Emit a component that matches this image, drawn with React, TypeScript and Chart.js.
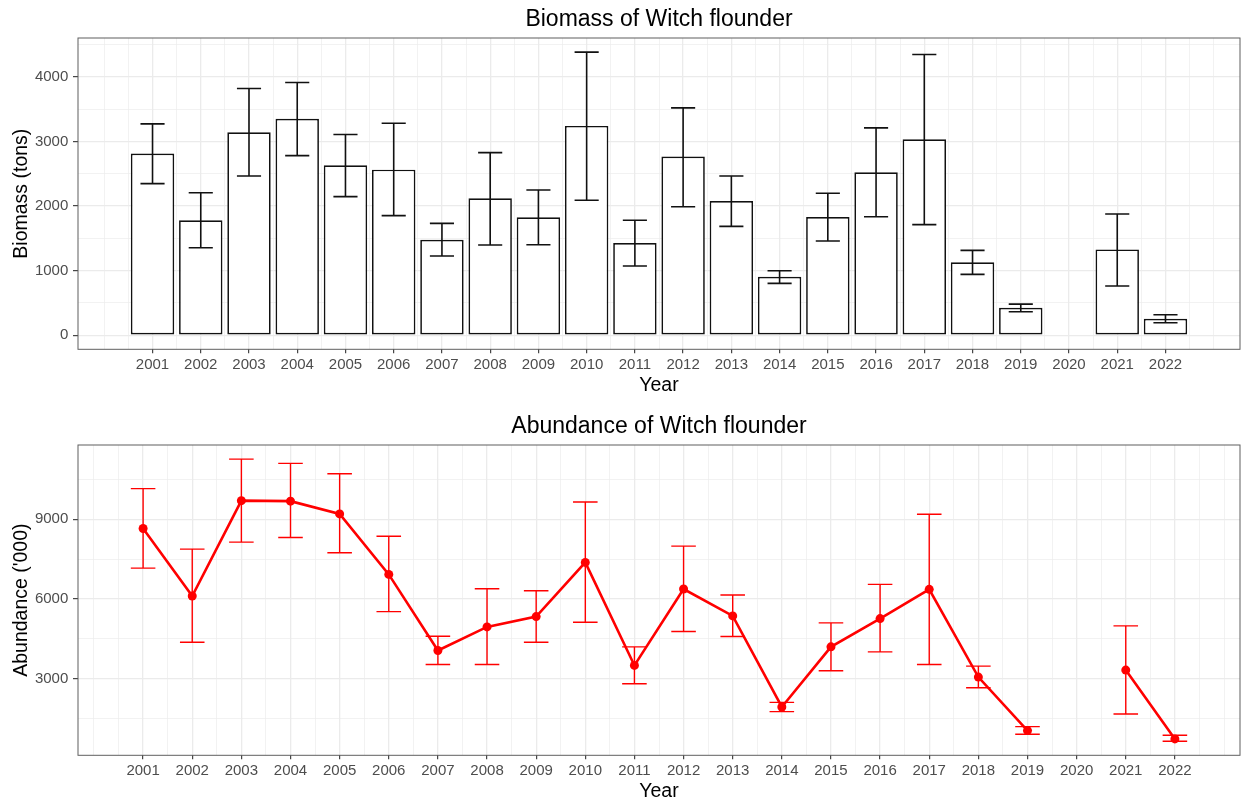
import React, { useEffect, useRef } from 'react';
import { Chart, registerables } from 'chart.js';

Chart.register(...registerables);

// ---------- data ----------
const years = [2001, 2002, 2003, 2004, 2005, 2006, 2007, 2008, 2009, 2010, 2011, 2012, 2013, 2014, 2015, 2016, 2017, 2018, 2019, 2020, 2021, 2022];

const biomass = [2811, 1778, 3142, 3349, 2630, 2563, 1478, 2119, 1824, 3240, 1426, 2765, 2078, 904, 1829, 2522, 3034, 1127, 423, null, 1328, 253];
const biomassLower = [2346, 1354, 2465, 2780, 2145, 1850, 1225, 1395, 1400, 2088, 1070, 1989, 1685, 801, 1457, 1834, 1711, 941, 362, null, 760, 191];
const biomassUpper = [3271, 2206, 3819, 3912, 3106, 3282, 1731, 2827, 2248, 4382, 1778, 3519, 2465, 997, 2197, 3209, 4346, 1313, 481, null, 1876, 315];

const abundance = [8650, 6112, 9700, 9680, 9200, 6925, 4062, 4950, 5337, 7375, 3500, 6375, 5362, 1937, 4200, 5262, 6362, 3062, 1050, null, 3325, 737];
const abundanceLower = [7162, 4375, 8137, 8312, 7737, 5525, 3537, 3537, 4375, 5125, 2812, 4775, 4587, 1762, 3300, 4012, 3537, 2662, 912, null, 1675, 650];
const abundanceUpper = [10150, 7875, 11262, 11100, 10713, 8362, 4600, 6387, 6312, 9650, 4200, 7987, 6150, 2112, 5100, 6550, 9187, 3475, 1200, null, 4987, 875];

const biomassTicks = [0, 1000, 2000, 3000, 4000];
const abundanceTicks = [3000, 6000, 9000];

const biomassTitle = 'Biomass of Witch flounder';
const abundanceTitle = 'Abundance of Witch flounder';
const xTitle = 'Year';
const biomassYTitle = 'Biomass (tons)';
const abundanceYTitle = "Abundance ('000)";

// ---------- helpers ----------
const FONT = "'Liberation Sans', Arial, Helvetica, sans-serif";
const GRID = '#ebebeb';
const TICK_TEXT = '#4d4d4d';

const nums = (a: (number | null)[]) => a.filter((v) => v != null) as number[];

function expandRange(lo: number, hi: number) {
  const pad = 0.05 * (hi - lo);
  return [lo - pad, hi + pad];
}

// major breaks + ggplot-style minor breaks within limits
function gridTicks(majors: number[], min: number, max: number) {
  const step = majors[1] - majors[0];
  const ext = [majors[0] - step, ...majors, majors[majors.length - 1] + step];
  const out: number[] = [];
  for (let i = 0; i < ext.length; i++) {
    out.push(ext[i]);
    if (i < ext.length - 1) out.push((ext[i] + ext[i + 1]) / 2);
  }
  return out.filter((v) => v >= min && v <= max);
}

function makeErrorBarPlugin(xv: number[], lower: (number | null)[], upper: (number | null)[], color: string, width: number, halfWidth: number) {
  return {
    id: 'errorBars',
    afterDatasetsDraw(chart: any) {
      const { ctx, chartArea, scales } = chart;
      const xs = scales.x;
      const ys = scales.y;
      ctx.save();
      ctx.beginPath();
      ctx.rect(chartArea.left, chartArea.top, chartArea.width, chartArea.height);
      ctx.clip();
      ctx.strokeStyle = color;
      ctx.lineWidth = width;
      ctx.lineCap = 'butt';
      xv.forEach((x, i) => {
        const lo = lower[i];
        const hi = upper[i];
        if (lo == null || hi == null) return;
        const px = xs.getPixelForValue(x);
        const hw = xs.getPixelForValue(x + halfWidth) - px;
        const pl = ys.getPixelForValue(lo);
        const ph = ys.getPixelForValue(hi);
        ctx.beginPath();
        ctx.moveTo(px, pl);
        ctx.lineTo(px, ph);
        ctx.moveTo(px - hw, pl);
        ctx.lineTo(px + hw, pl);
        ctx.moveTo(px - hw, ph);
        ctx.lineTo(px + hw, ph);
        ctx.stroke();
      });
      ctx.restore();
    },
  };
}

const panelBorderPlugin = {
  id: 'panelBorder',
  afterDraw(chart: any) {
    const { ctx, chartArea } = chart;
    ctx.save();
    ctx.strokeStyle = '#5f5f5f';
    ctx.lineWidth = 1;
    ctx.strokeRect(chartArea.left, chartArea.top, chartArea.width, chartArea.height);
    ctx.restore();
  },
};

interface Geo {
  height: number;
  areaBottom: number;
}

function buildOptions(opts: {
  title: string;
  yTitle: string;
  xMin: number;
  xMax: number;
  yMin: number;
  yMax: number;
  yMajors: number[];
  geo: Geo;
}) {
  const xMajors = years;
  const xTicks = gridTicks(xMajors, opts.xMin, opts.xMax);
  const yTicks = gridTicks(opts.yMajors, opts.yMin, opts.yMax);
  const isXMajor = (v: number) => xMajors.includes(v);
  const isYMajor = (v: number) => opts.yMajors.includes(v);
  const xHeight = opts.geo.height - opts.geo.areaBottom;
  return {
    responsive: false,
    animation: false,
    devicePixelRatio: 1,
    events: [],
    layout: { autoPadding: false, padding: { left: 0, right: 1, top: 0, bottom: 0 } },
    plugins: {
      legend: { display: false },
      tooltip: { enabled: false },
      title: {
        display: true,
        text: opts.title,
        fullSize: false,
        color: '#000',
        font: { family: FONT, size: 23, weight: 'normal' },
        padding: { top: 5.6, bottom: 4.8 },
      },
    },
    scales: {
      x: {
        type: 'linear',
        offset: false,
        min: opts.xMin,
        max: opts.xMax,
        afterBuildTicks: (scale: any) => {
          scale.ticks = xTicks.map((v) => ({ value: v }));
        },
        afterFit: (scale: any) => {
          scale.height = xHeight;
          scale.paddingLeft = 0;
          scale.paddingRight = 0;
        },
        border: { display: false },
        grid: {
          offset: false,
          color: GRID,
          lineWidth: (c: any) => (c.tick && isXMajor(c.tick.value) ? 1.3 : 0.65),
          drawTicks: true,
          tickLength: 4,
          tickWidth: 1.1,
          tickColor: (c: any) => (c.tick && isXMajor(c.tick.value) ? '#333333' : 'rgba(0,0,0,0)'),
        },
        ticks: {
          autoSkip: false,
          maxRotation: 0,
          minRotation: 0,
          padding: 2.4,
          color: TICK_TEXT,
          font: { family: FONT, size: 15 },
          callback: (v: number) => (isXMajor(v) ? String(v) : ''),
        },
        title: {
          display: true,
          text: xTitle,
          color: '#000',
          font: { family: FONT, size: 19.5 },
          padding: { top: 0, bottom: xHeight - 36.5 - 11.7 },
        },
      },
      y: {
        type: 'linear',
        min: opts.yMin,
        max: opts.yMax,
        afterBuildTicks: (scale: any) => {
          scale.ticks = yTicks.map((v) => ({ value: v }));
        },
        afterFit: (scale: any) => {
          scale.width = 78;
          scale.paddingTop = 0;
          scale.paddingBottom = 0;
        },
        border: { display: false },
        grid: {
          color: GRID,
          lineWidth: (c: any) => (c.tick && isYMajor(c.tick.value) ? 1.3 : 0.65),
          drawTicks: true,
          tickLength: 5,
          tickWidth: 1.1,
          tickColor: (c: any) => (c.tick && isYMajor(c.tick.value) ? '#333333' : 'rgba(0,0,0,0)'),
        },
        ticks: {
          autoSkip: false,
          padding: 4.7,
          color: TICK_TEXT,
          font: { family: FONT, size: 15 },
          callback: (v: number) => (isYMajor(v) ? String(v) : ''),
        },
        title: {
          display: true,
          text: opts.yTitle,
          color: '#000',
          font: { family: FONT, size: 19.5 },
          padding: { top: 10.3, bottom: 0 },
        },
      },
    },
  };
}

const TOP_GEO: Geo = { height: 403, areaBottom: 349.3 };
const BOTTOM_GEO: Geo = { height: 398, areaBottom: 348.3 };

export default function App() {
  const topRef = useRef<HTMLCanvasElement | null>(null);
  const bottomRef = useRef<HTMLCanvasElement | null>(null);

  useEffect(() => {
    // ----- biomass bar chart -----
    const bLo = Math.min(0, ...nums(biomassLower), ...nums(biomass));
    const bHi = Math.max(...nums(biomassUpper), ...nums(biomass));
    const [byMin, byMax] = expandRange(bLo, bHi);
    const [bxMin, bxMax] = expandRange(years[0] - 0.45, years[years.length - 1] + 0.45);

    const top = new Chart(topRef.current as HTMLCanvasElement, {
      type: 'bar',
      data: {
        datasets: [
          {
            data: years.map((x, i) => ({ x, y: biomass[i] })),
            backgroundColor: '#ffffff',
            borderColor: '#111111',
            borderWidth: 1.7,
            borderSkipped: false,
            // ticks are spaced every 0.5 year, so 1.8 x 0.5 = 0.9 year bar width
            barPercentage: 1.8,
            categoryPercentage: 1,
          } as any,
        ],
      },
      options: buildOptions({
        title: biomassTitle,
        yTitle: biomassYTitle,
        xMin: bxMin,
        xMax: bxMax,
        yMin: byMin,
        yMax: byMax,
        yMajors: biomassTicks,
        geo: TOP_GEO,
      }) as any,
      plugins: [makeErrorBarPlugin(years, biomassLower, biomassUpper, '#111111', 1.6, 0.25), panelBorderPlugin],
    });

    // ----- abundance line chart -----
    const aLo = Math.min(...nums(abundanceLower), ...nums(abundance));
    const aHi = Math.max(...nums(abundanceUpper), ...nums(abundance));
    const [ayMin, ayMax] = expandRange(aLo, aHi);
    const [axMin, axMax] = expandRange(years[0] - 0.25, years[years.length - 1] + 0.25);

    const bottom = new Chart(bottomRef.current as HTMLCanvasElement, {
      type: 'line',
      data: {
        datasets: [
          {
            data: years.map((x, i) => ({ x, y: abundance[i] })),
            borderColor: '#ff0000',
            backgroundColor: '#ff0000',
            borderWidth: 2.6,
            pointRadius: 4.5,
            pointBorderWidth: 0,
            pointBackgroundColor: '#ff0000',
            spanGaps: false,
            tension: 0,
          } as any,
        ],
      },
      options: buildOptions({
        title: abundanceTitle,
        yTitle: abundanceYTitle,
        xMin: axMin,
        xMax: axMax,
        yMin: ayMin,
        yMax: ayMax,
        yMajors: abundanceTicks,
        geo: BOTTOM_GEO,
      }) as any,
      plugins: [makeErrorBarPlugin(years, abundanceLower, abundanceUpper, '#ff0000', 1.4, 0.25), panelBorderPlugin],
    });

    return () => {
      top.destroy();
      bottom.destroy();
    };
  }, []);

  return (
    <div style={{ position: 'absolute', left: 0, top: 0, width: 1241, height: 805, background: '#ffffff' }}>
      <canvas ref={topRef} width={1241} height={TOP_GEO.height} style={{ position: 'absolute', left: 0, top: 0, display: 'block' }} />
      <canvas ref={bottomRef} width={1241} height={BOTTOM_GEO.height} style={{ position: 'absolute', left: 0, top: 407, display: 'block' }} />
    </div>
  );
}
